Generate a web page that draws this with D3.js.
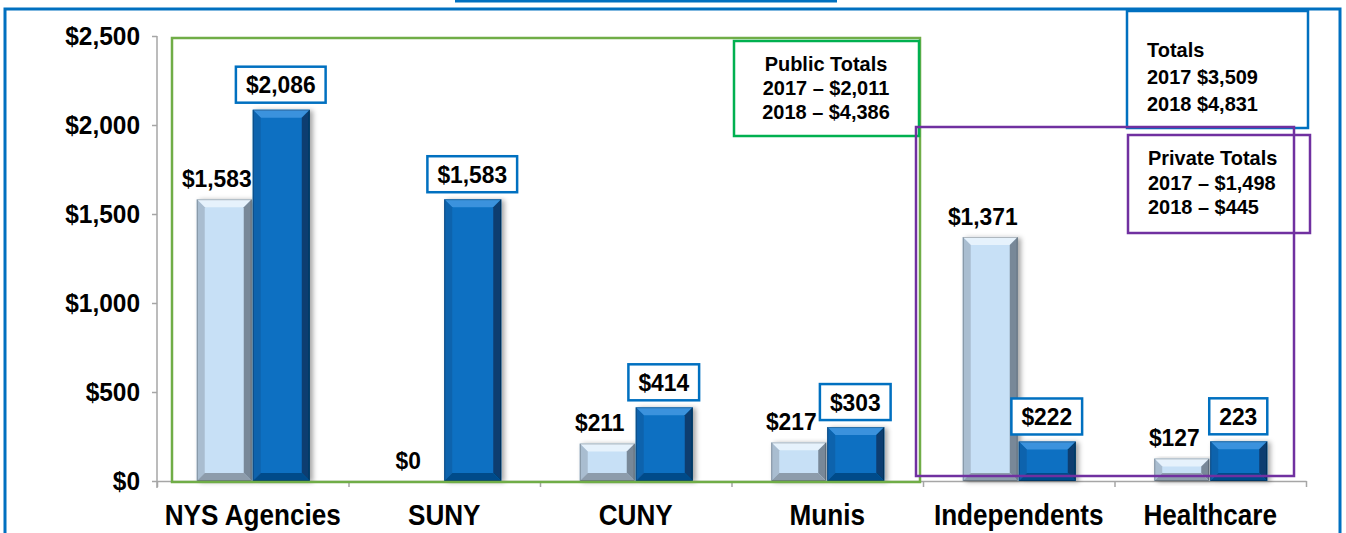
<!DOCTYPE html>
<html>
<head>
<meta charset="utf-8">
<script src="https://cdn.jsdelivr.net/npm/d3@7"></script>
<style>
  body { margin: 0; background: #fff; }
  text { font-family: "Liberation Sans", Arial, sans-serif; font-weight: bold; fill: #000; }
</style>
</head>
<body>
<div id="chart"></div>
<script>
// data
var categories = ["NYS Agencies", "SUNY", "CUNY", "Munis", "Independents", "Healthcare"];
var values2017 = [1583, 0, 211, 217, 1371, 127];
var values2018 = [2086, 1583, 414, 303, 222, 223];
var labels2017 = ["$1,583", "$0", "$211", "$217", "$1,371", "$127"];
var labels2018 = ["$2,086", "$1,583", "$414", "$303", "$222", "223"];
var yTicks = [0, 500, 1000, 1500, 2000, 2500];

var publicTotals = ["Public Totals", "2017 \u2013 $2,011", "2018 \u2013 $4,386"];
var allTotals = ["Totals", "2017 $3,509", "2018 $4,831"];
var privateTotals = ["Private Totals", "2017 \u2013 $1,498", "2018 \u2013 $445"];

// size
var svg_w = 1346;
var svg_h = 533;
var plotLeft = 157, plotRight = 1306, plotTop = 36, plotBottom = 481;

var svg = d3.select("#chart").append("svg")
	.attr("width", svg_w)
	.attr("height", svg_h);

var defs = svg.append("defs");
var shadow = defs.append("filter").attr("id", "shadow")
	.attr("x", "-20%").attr("y", "-10%").attr("width", "150%").attr("height", "130%");
shadow.append("feDropShadow")
	.attr("dx", 3).attr("dy", 1).attr("stdDeviation", 2.5)
	.attr("flood-color", "#000").attr("flood-opacity", 0.35);

// scales
var x0 = d3.scaleBand()
	.domain(categories)
	.range([plotLeft, plotRight])
	.paddingInner(0.415)
	.paddingOuter(0.2075);

var x1 = d3.scaleBand()
	.domain(["2017", "2018"])
	.range([0, x0.bandwidth()]);

var y = d3.scaleLinear()
	.domain([0, 2500])
	.range([plotBottom, plotTop]);

var xEdges = d3.scaleLinear()
	.domain([0, categories.length])
	.range([plotLeft, plotRight]);

// squeeze text a bit so it looks like the narrow original
function condense(sel, f) {
	sel.each(function() {
		var len = this.getComputedTextLength();
		d3.select(this).attr("textLength", len * f).attr("lengthAdjust", "spacingAndGlyphs");
	});
}

// outer frame and top strip
svg.append("rect")
	.attr("x", 5).attr("y", 9).attr("width", 1335).attr("height", 540)
	.attr("fill", "none").attr("stroke", "#0070C0").attr("stroke-width", 3);
svg.append("line")
	.attr("x1", 455).attr("x2", 837).attr("y1", 1).attr("y2", 1)
	.attr("stroke", "#0070C0").attr("stroke-width", 3);

// axes
var yAxis = d3.axisLeft(y)
	.tickValues(yTicks)
	.tickSize(5)
	.tickSizeOuter(0)
	.tickPadding(12)
	.tickFormat(function(d) { return "$" + d3.format(",")(d); });

var gy = svg.append("g")
	.attr("transform", "translate(" + plotLeft + ",0)")
	.call(yAxis);
gy.selectAll("path, line").attr("stroke", "#A6A6A6").attr("stroke-width", 1.5);
gy.selectAll("text").style("font-size", "26px").attr("fill", "#000");
condense(gy.selectAll("text"), 0.94);
gy.select(".domain").attr("d", "M0," + (plotBottom + 7) + "V" + plotTop);

var xAxis = d3.axisBottom(xEdges)
	.tickValues(d3.range(categories.length + 1))
	.tickSize(6)
	.tickSizeOuter(0)
	.tickFormat("");

var gx = svg.append("g")
	.attr("transform", "translate(0," + plotBottom + ")")
	.call(xAxis);
gx.selectAll("path, line").attr("stroke", "#A6A6A6").attr("stroke-width", 1.5);

// bevelled bars
var pal2017 = { face: "#C7E0F6", top: "#E6F2FC", left: "#A9BDD0", right: "#788898", bottom: "#8D9CAB" };
var pal2018 = { face: "#0A70C2", top: "#3A92DD", left: "#0B63AD", right: "#073E70", bottom: "#064C8A" };

function bevelBar(g, bx, by, bw, bh, pal) {
	if (bh <= 0) return;
	var b = Math.min(8, bh / 2, bw / 2);
	var grp = g.append("g").attr("filter", "url(#shadow)");
	grp.append("rect")
		.attr("x", bx).attr("y", by).attr("width", bw).attr("height", bh)
		.attr("fill", pal.face);
	var polys = [
		[[bx, by], [bx + bw, by], [bx + bw - b, by + b], [bx + b, by + b], pal.top],
		[[bx, by], [bx + b, by + b], [bx + b, by + bh - b], [bx, by + bh], pal.left],
		[[bx + bw, by], [bx + bw, by + bh], [bx + bw - b, by + bh - b], [bx + bw - b, by + b], pal.right],
		[[bx, by + bh], [bx + b, by + bh - b], [bx + bw - b, by + bh - b], [bx + bw, by + bh], pal.bottom]
	];
	polys.forEach(function(p) {
		grp.append("polygon")
			.attr("points", p.slice(0, 4).map(function(q) { return q.join(","); }).join(" "))
			.attr("fill", p[4]);
	});
	grp.append("rect")
		.attr("x", bx + 0.5).attr("y", by + 0.5).attr("width", bw - 1).attr("height", bh - 1)
		.attr("fill", "none").attr("stroke", "rgba(0,0,0,0.25)").attr("stroke-width", 1);
}

var bars = svg.append("g");
categories.forEach(function(c, i) {
	var gx0 = x0(c);
	bevelBar(bars, gx0 + x1("2017"), y(values2017[i]), x1.bandwidth() - 1, y(0) - y(values2017[i]), pal2017);
	bevelBar(bars, gx0 + x1("2018"), y(values2018[i]), x1.bandwidth() + 1, y(0) - y(values2018[i]), pal2018);
});

// 2017 value labels
var lab17 = svg.append("g").selectAll("text")
	.data(categories)
	.enter()
	.append("text")
	.attr("x", function(d) { return x0(d) + x1("2017") + x1.bandwidth() / 2 - 8; })
	.attr("y", function(d, i) { return y(values2017[i]) - 12; })
	.attr("text-anchor", "middle")
	.style("font-size", "24px")
	.text(function(d, i) { return labels2017[i]; });
condense(lab17, 0.95);

// 2018 boxed labels
var boxLabels = svg.append("g").selectAll("g")
	.data(categories)
	.enter()
	.append("g")
	.attr("transform", function(d, i) {
		var cx = x0(d) + x1("2018") + x1.bandwidth() / 2;
		return "translate(" + cx + "," + (y(values2018[i]) - 25) + ")";
	});
boxLabels.append("rect");
boxLabels.append("text")
	.attr("text-anchor", "middle")
	.attr("dy", "0.36em")
	.style("font-size", "24px")
	.text(function(d, i) { return labels2018[i]; });
boxLabels.each(function() {
	var g = d3.select(this);
	var t = g.select("text");
	var tw = t.node().getComputedTextLength() * 0.95;
	t.attr("textLength", tw).attr("lengthAdjust", "spacingAndGlyphs");
	g.select("rect")
		.attr("x", -tw / 2 - 10).attr("y", -18)
		.attr("width", tw + 20).attr("height", 36)
		.attr("fill", "#fff").attr("stroke", "#0070C0").attr("stroke-width", 2.5);
});

// category labels
var catText = svg.append("g").selectAll("text")
	.data(categories)
	.enter()
	.append("text")
	.attr("x", function(d) { return x0(d) + x0.bandwidth() / 2; })
	.attr("y", 525)
	.attr("text-anchor", "middle")
	.style("font-size", "29px")
	.text(function(d) { return d; });
condense(catText, 0.9);

// grouping frames
function frame(x, yy, w, h, col, sw) {
	svg.append("rect")
		.attr("x", x).attr("y", yy).attr("width", w).attr("height", h)
		.attr("fill", "none").attr("stroke", col).attr("stroke-width", sw);
}
frame(172, 38, 748, 444, "#70AD47", 2.5);
frame(734, 41, 185, 95, "#00B050", 2.5);
frame(1127, 11, 181, 117, "#0070C0", 2.5);
frame(916, 127, 378, 349, "#7030A0", 2.5);
frame(1128, 135, 182, 98, "#7030A0", 2.5);

// totals text
function textBlock(lines, x, y0, step, anchor) {
	var t = svg.append("g").selectAll("text")
		.data(lines)
		.enter()
		.append("text")
		.attr("x", x)
		.attr("y", function(d, i) { return y0 + i * step; })
		.attr("text-anchor", anchor)
		.style("font-size", "21px")
		.text(function(d) { return d; });
	condense(t, 0.95);
}
textBlock(publicTotals, 826, 71, 24, "middle");
textBlock(allTotals, 1147, 57, 27, "start");
textBlock(privateTotals, 1148, 165, 24.5, "start");
</script>
</body>
</html>
